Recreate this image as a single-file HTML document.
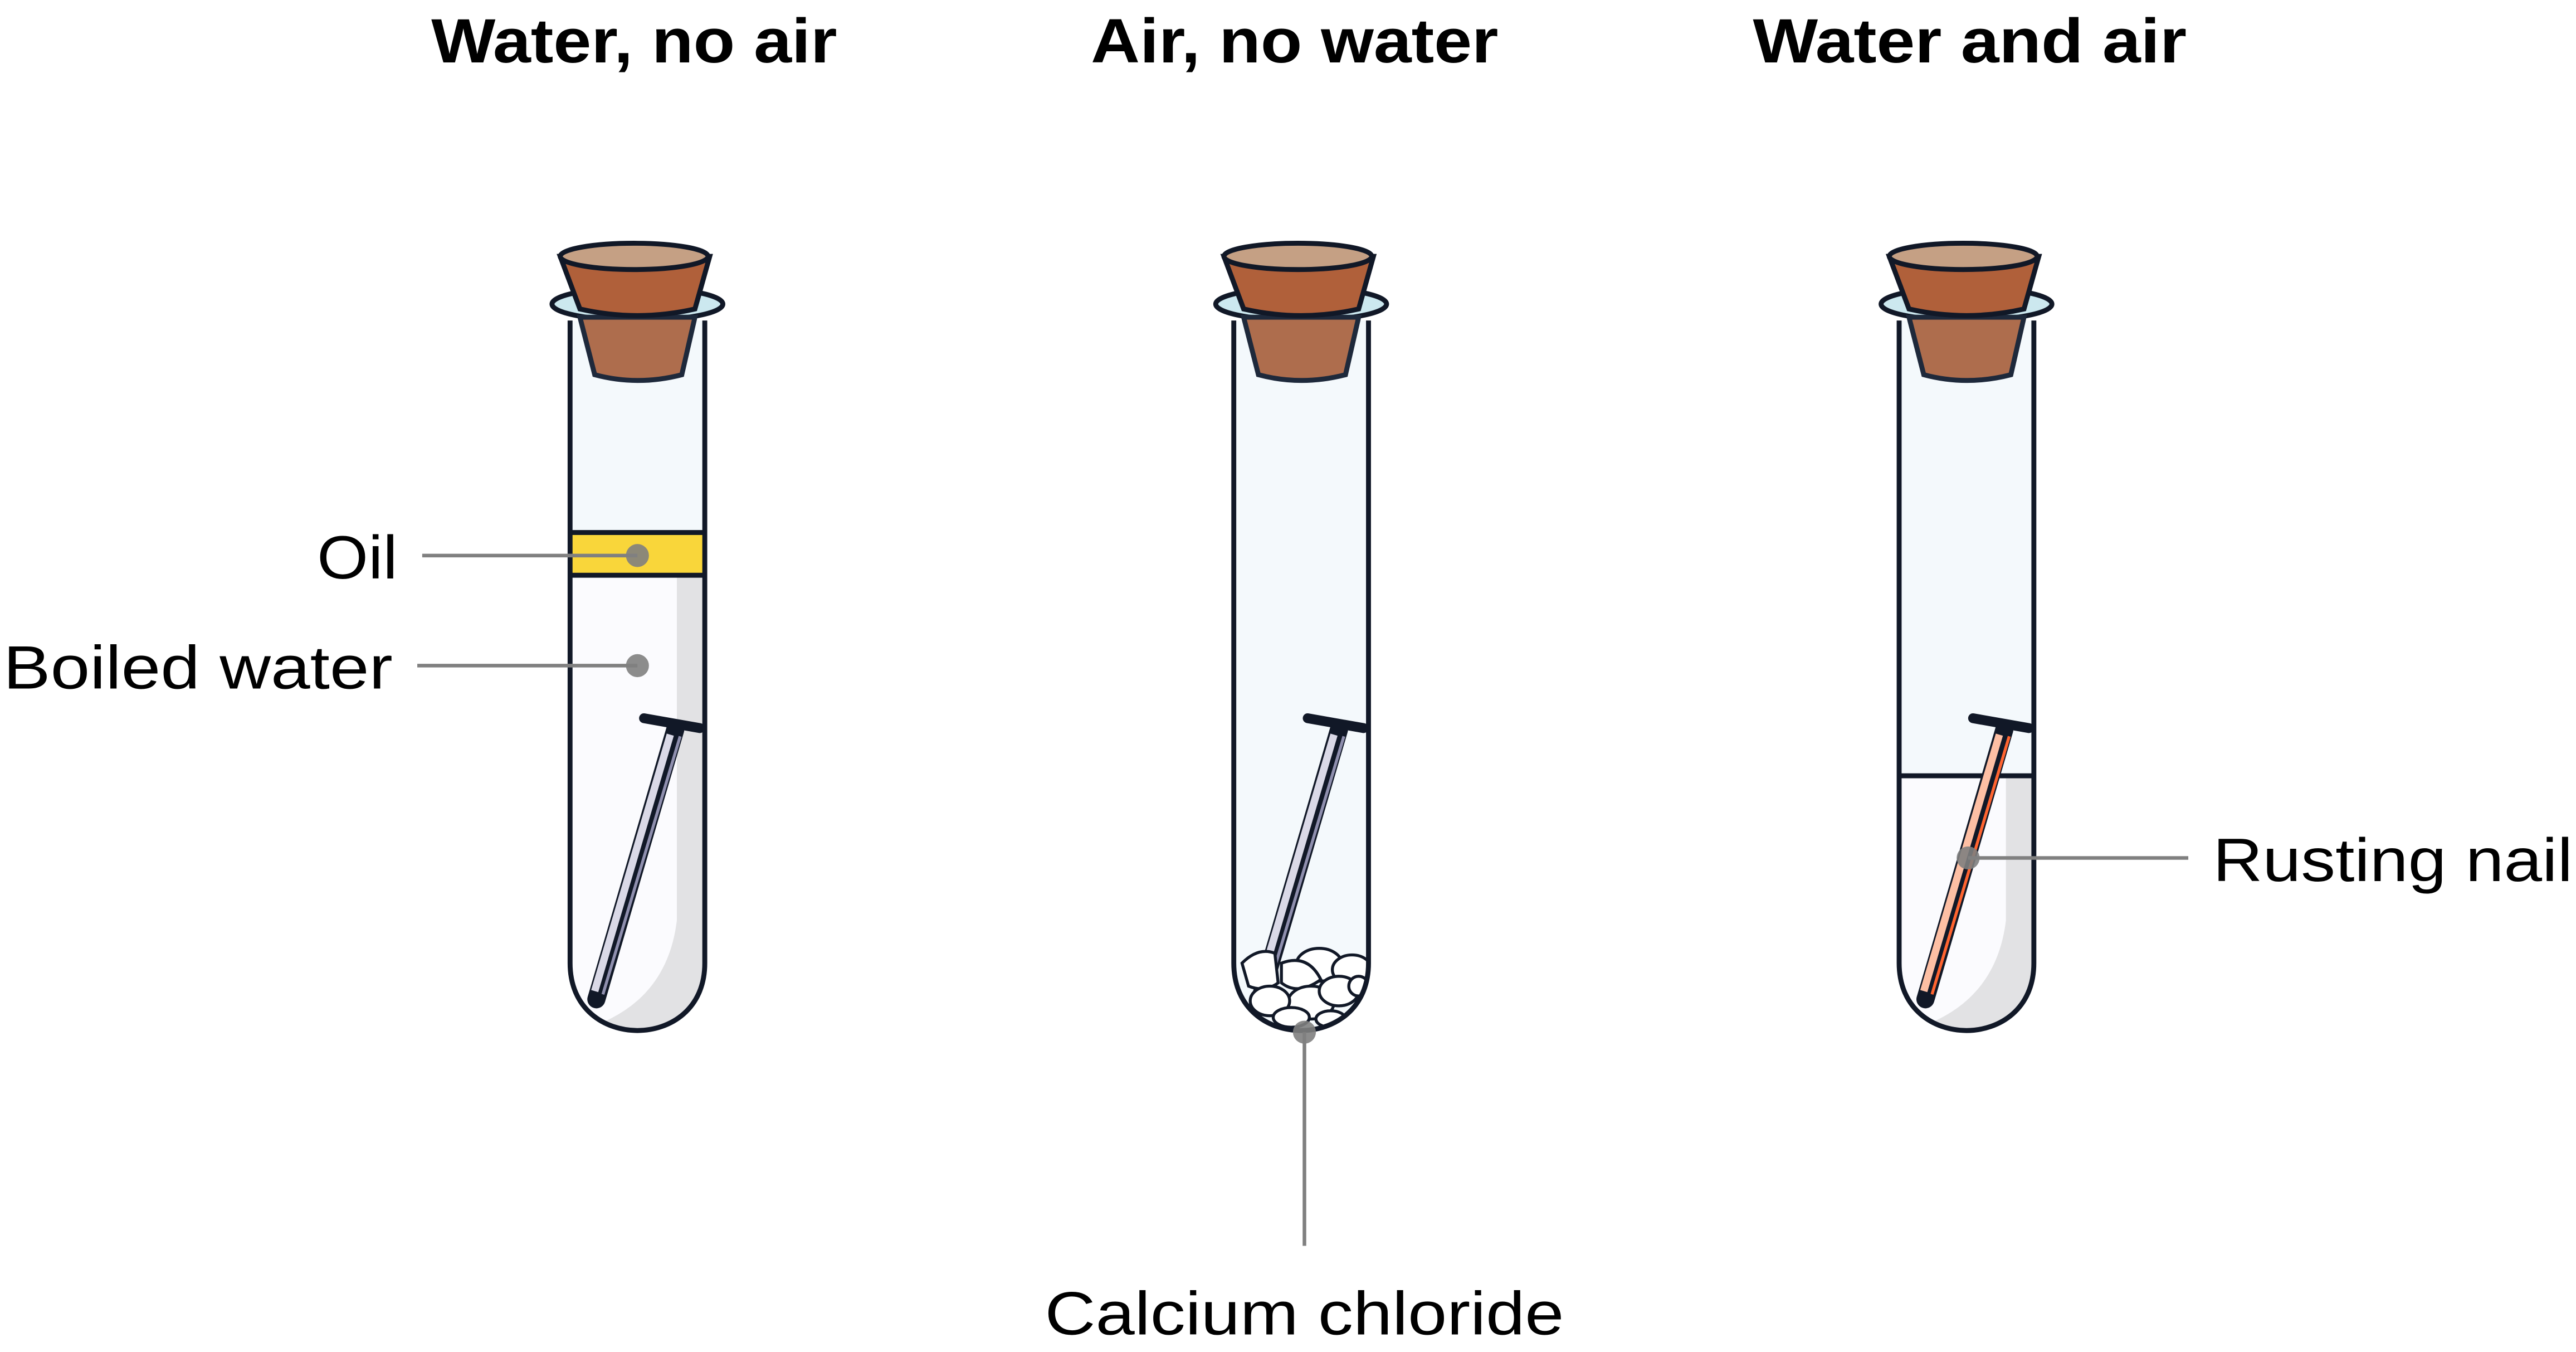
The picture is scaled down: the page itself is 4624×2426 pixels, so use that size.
<!DOCTYPE html>
<html><head><style>html,body{margin:0;padding:0;background:#fff}svg{display:block}</style></head>
<body>
<svg width="4624" height="2426" viewBox="0 0 1568 822.6" preserveAspectRatio="none" xmlns="http://www.w3.org/2000/svg" font-family="Liberation Sans, sans-serif">
<defs>
<clipPath id="tc"><path d="M347,195 V586 C347,614 368,627 388,627 C408,627 429,614 429,586 V195 Z"/></clipPath>
<g id="cork">
<ellipse cx="388" cy="185" rx="52" ry="10" fill="#cce8ef" stroke="#111827" stroke-width="3"/>
<path d="M353,193 L362,228 Q388,235 415,228 L423,193 Z" fill="#ae6d4d" stroke="#1e293b" stroke-width="3"/>
<path d="M341,156 L353,188 Q388,196 423,188 L432,156 Z" fill="#b0603a" stroke="#111827" stroke-width="3"/>
<ellipse cx="386" cy="156" rx="45" ry="8" fill="#c5a084" stroke="#111827" stroke-width="3"/>
</g>
<g id="nail">
<line x1="411" y1="444" x2="363" y2="608" stroke="#111827" stroke-width="11" stroke-linecap="round"/>
<line x1="408" y1="447" x2="362" y2="603" stroke="#dad9e7" stroke-width="4.5"/>
<line x1="414" y1="448" x2="367" y2="605" stroke="#8f8fae" stroke-width="1.8"/>
<line x1="392" y1="437" x2="426" y2="443" stroke="#111827" stroke-width="6" stroke-linecap="round"/>
</g>
</defs>

<g font-weight="bold" font-size="38" text-anchor="middle" fill="#000" lengthAdjust="spacingAndGlyphs">
<text x="386" y="38" textLength="247" lengthAdjust="spacingAndGlyphs">Water, no air</text>
<text x="788" y="38" textLength="248" lengthAdjust="spacingAndGlyphs">Air, no water</text>
<text x="1199" y="38" textLength="264" lengthAdjust="spacingAndGlyphs">Water and air</text>
</g>

<!-- Tube 1 -->
<g>
<g clip-path="url(#tc)">
<rect x="340" y="190" width="100" height="440" fill="#f4f9fc"/>
<rect x="340" y="350" width="100" height="290" fill="#fbfbfe"/>
<path d="M412,350 H432 V630 H340 Q405,618 412,560 Z" fill="#e2e2e4"/>
<rect x="340" y="324" width="100" height="26" fill="#f9d63a" stroke="#111827" stroke-width="3"/>
</g>
<use href="#nail"/>
<path d="M347,195 V586 C347,614 368,627 388,627 C408,627 429,614 429,586 V195" fill="none" stroke="#111827" stroke-width="3"/>
<use href="#cork"/>
</g>

<!-- Tube 2 -->
<g transform="translate(404,0)">
<g clip-path="url(#tc)"><rect x="340" y="190" width="100" height="440" fill="#f4f9fc"/>
<use href="#nail"/>
<g fill="#fff" stroke="#111827" stroke-width="1.8">
<path d="M352,586 Q362,576 372,580 L374,598 Q366,604 356,600 Z"/>
<ellipse cx="399" cy="587" rx="14" ry="10"/>
<ellipse cx="419" cy="590" rx="12" ry="9"/>
<path d="M376,586 Q392,580 400,596 Q386,606 376,598 Z"/>
<ellipse cx="394" cy="610" rx="14" ry="10"/>
<ellipse cx="411" cy="603" rx="12" ry="9"/>
<ellipse cx="369" cy="609" rx="12" ry="9"/>
<ellipse cx="423" cy="600" rx="6" ry="6"/>
<ellipse cx="382" cy="619" rx="11" ry="6"/>
<ellipse cx="406" cy="620" rx="9" ry="5"/>
</g>
</g>
<path d="M347,195 V586 C347,614 368,627 388,627 C408,627 429,614 429,586 V195" fill="none" stroke="#111827" stroke-width="3"/>
<use href="#cork"/>
</g>

<!-- Tube 3 -->
<g transform="translate(809,0)">
<g clip-path="url(#tc)">
<rect x="340" y="190" width="100" height="440" fill="#f4f9fc"/>
<rect x="340" y="472" width="100" height="170" fill="#fbfbfe"/>
<path d="M412,472 H432 V630 H340 Q405,618 412,560 Z" fill="#e2e2e4"/>
<line x1="340" y1="472" x2="440" y2="472" stroke="#111827" stroke-width="3"/>
</g>
<line x1="411" y1="444" x2="363" y2="608" stroke="#111827" stroke-width="11" stroke-linecap="round"/>
<line x1="408" y1="447" x2="362" y2="603" stroke="#fdbfa4" stroke-width="4.5"/>
<line x1="414" y1="448" x2="367" y2="605" stroke="#ff6430" stroke-width="1.8"/>
<line x1="392" y1="437" x2="426" y2="443" stroke="#111827" stroke-width="6" stroke-linecap="round"/>
<path d="M347,195 V586 C347,614 368,627 388,627 C408,627 429,614 429,586 V195" fill="none" stroke="#111827" stroke-width="3"/>
<use href="#cork"/>
</g>

<!-- Leaders -->
<g stroke="#808080" stroke-width="2.2" fill="none">
<line x1="257" y1="338" x2="388" y2="338"/>
<line x1="254" y1="405" x2="388" y2="405"/>
<line x1="1198" y1="522" x2="1332" y2="522"/>
<line x1="794" y1="628" x2="794" y2="758"/>
</g>
<g fill="#808080" fill-opacity="0.9">
<circle cx="388" cy="338" r="7"/>
<circle cx="388" cy="405" r="7"/>
<circle cx="1198" cy="522" r="7"/>
<circle cx="794" cy="628" r="7"/>
</g>

<g font-size="37" fill="#000">
<text x="193" y="352" textLength="49" lengthAdjust="spacingAndGlyphs">Oil</text>
<text x="2" y="419" textLength="237" lengthAdjust="spacingAndGlyphs">Boiled water</text>
<text x="1347" y="536" textLength="219" lengthAdjust="spacingAndGlyphs">Rusting nail</text>
<text x="636" y="812" textLength="316" lengthAdjust="spacingAndGlyphs">Calcium chloride</text>
</g>
</svg>
</body></html>
